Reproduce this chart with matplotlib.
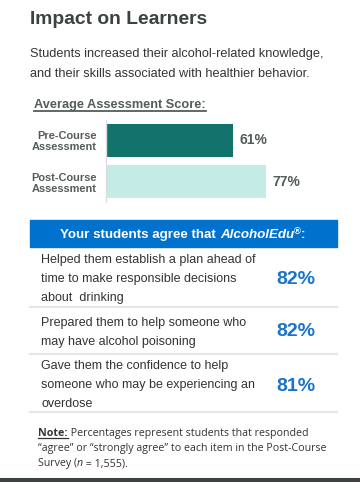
"""Impact on Learners infographic panel."""
import matplotlib
matplotlib.use("Agg")
import matplotlib.pyplot as plt
from matplotlib.lines import Line2D
from matplotlib.patches import Rectangle

W, H = 360, 482

plt.rcParams["font.family"] = ["Liberation Sans", "DejaVu Sans"]

# data
categories = ["Pre-Course\nAssessment", "Post-Course\nAssessment"]
scores = [61, 77]
bar_colors = ["#11736b", "#c4ebe5"]

statements = [
    ["Helped them establish a plan ahead of", "time to make responsible decisions", "about  drinking"],
    ["Prepared them to help someone who", "may have alcohol poisoning"],
    ["Gave them the confidence to help", "someone who may be experiencing an", "overdose"],
]
agree_pct = [82, 82, 81]

DARK = "#3b4242"
GRAY = "#555b5b"
BLUE = "#0071cd"


def px(x, y):
    return x / W, 1 - y / H


def text_runs(fig, x, y, runs, ha="left", **kw):
    """Draw consecutive text pieces with different styles on one baseline."""
    r = fig.canvas.get_renderer()
    objs = []
    for s, style in runs:
        opts = dict(kw)
        opts.update(style)
        dy = opts.pop("dy", 0)
        t = fig.text(0, 0, s, va="baseline", **opts)
        objs.append((t, dy))
    widths = [t.get_window_extent(r).width for t, _ in objs]
    x0 = x - sum(widths) / 2 if ha == "center" else x
    for (t, dy), w in zip(objs, widths):
        t.set_position(px(x0, y - dy))
        x0 += w
    return [t for t, _ in objs]


def underline(fig, t, y, color, lw=1.2):
    r = fig.canvas.get_renderer()
    bb = t.get_window_extent(r)
    fig.add_artist(Line2D([bb.x0 / W, bb.x1 / W], [1 - y / H] * 2,
                          color=color, lw=lw, transform=fig.transFigure))


fig = plt.figure(figsize=(W / 100, H / 100), dpi=100)
fig.patch.set_facecolor("white")

fig.text(*px(30, 24), "Impact on Learners", fontsize=13.9, fontweight="bold",
         color=DARK, va="baseline")
fig.text(*px(30, 57), "Students increased their alcohol-related knowledge,",
         fontsize=9.2, color="#333333", va="baseline")
fig.text(*px(30, 77), "and their skills associated with healthier behavior.",
         fontsize=9.2, color="#333333", va="baseline")
t = fig.text(*px(34, 108), "Average Assessment Score:", fontsize=9.2,
             fontweight="bold", color=GRAY, va="baseline")
underline(fig, t, 111, GRAY, lw=1.3)

# bar chart
ax = fig.add_axes([106 / W, 1 - 202 / H, 208 / W, 82 / H])
ypos = range(len(categories))
ax.barh(ypos, scores, height=0.81, color=bar_colors)
ax.set_xlim(0, 100)
ax.set_ylim(1.49, -0.49)
ax.set_yticks(list(ypos))
ax.set_yticklabels(categories, fontsize=7.9, fontweight="bold", color=GRAY,
                   linespacing=1.1)
ax.tick_params(axis="y", length=0, pad=7)
ax.set_xticks([])
for s in ["top", "right", "bottom"]:
    ax.spines[s].set_visible(False)
ax.spines["left"].set_color("#dddddd")
ax.spines["left"].set_linewidth(1.0)
ax.patch.set_alpha(0)
for y, v in zip(ypos, scores):
    ax.text(v + 3, y, f"{v}%", va="center", ha="left", fontsize=10,
            fontweight="bold", color=GRAY)

# agreement table
fig.add_artist(Rectangle(px(30, 247), 307 / W, 27 / H, color=BLUE,
                         transform=fig.transFigure))
hdr = dict(color="white", fontsize=9.6, fontweight="bold")
text_runs(fig, 183, 238, [
    ("Your students agree that ", {}),
    ("AlcoholEdu", {"fontstyle": "italic"}),
    ("®", {"fontsize": 6.8, "dy": 4}),
    (":", {}),
], ha="center", **hdr)

row_lines = [[263, 282, 301], [326, 345], [369, 388, 407]]
pct_y = [284, 336, 391]
seps = [307, 354, 412]
for lines, ys, pct, py, sy in zip(statements, row_lines, agree_pct, pct_y, seps):
    for s, y in zip(lines, ys):
        fig.text(*px(41, y), s, fontsize=9.0, color="#333333", va="baseline")
    fig.text(*px(296, py), f"{pct}%", fontsize=14, fontweight="bold",
             color="#1a73cc", va="baseline", ha="center")
    fig.add_artist(Line2D([30 / W, 337 / W], [1 - sy / H] * 2, color="#e6e6e6",
                          lw=1.6, transform=fig.transFigure))

# note
note = dict(fontsize=7.7, color="#333333", family=["Open Sans", "DejaVu Sans"])
runs = text_runs(fig, 38, 436, [
    ("Note:", {"fontweight": "bold"}),
    (" Percentages represent students that responded", {}),
], **note)
underline(fig, runs[0], 438, "#333333", lw=0.9)
fig.text(*px(38, 451), "\u201cagree\u201d or \u201cstrongly agree\u201d to each item in the Post-Course",
         va="baseline", **note)
text_runs(fig, 38, 466, [
    ("Survey (", {}),
    ("n", {"fontstyle": "italic"}),
    (" = 1,555).", {}),
], **note)

fig.add_artist(Line2D([0, 1], [1 - 479.5 / H] * 2, color="#3b4242", lw=3.6,
                      transform=fig.transFigure))

fig.savefig("out.png", dpi=100)
